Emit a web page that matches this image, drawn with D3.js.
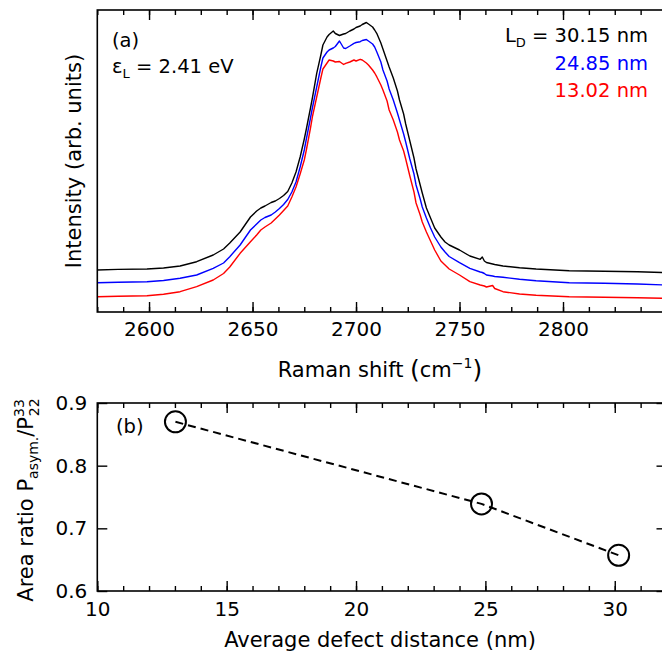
<!DOCTYPE html>
<html lang="en">
<head>
<meta charset="UTF-8" />
<title>2D band vs defect distance</title>
<script src="https://d3js.org/d3.v7.min.js"></script>
<style>
  body { margin: 0; background: #fff; }
  svg { display: block; font-family: "DejaVu Sans", sans-serif; }
  .frame { fill: none; stroke: #000; stroke-width: 1.6px; }
  .axis line { stroke: #000; stroke-width: 1.4px; }
  .axis text { font-size: 20px; fill: #000; font-family: "DejaVu Sans", sans-serif; }
  .lbl { font-size: 19.5px; }
  .title { font-size: 21px; }
  .spec { fill: none; stroke-width: 1.4px; stroke-linejoin: round; }
</style>
</head>
<body>
<div id="chart"></div>
<script>
// Raman shift grid (cm^-1) shared by the three spectra
var shift = [2575, 2585, 2599, 2607, 2615, 2623, 2631, 2636, 2639, 2644, 2649, 2652, 2654, 2656, 2659,
  2661, 2663, 2665, 2667, 2669, 2671, 2673, 2675, 2676, 2678, 2679, 2681, 2683, 2684, 2686, 2687,
  2689, 2690, 2692, 2694, 2695, 2697, 2699, 2700, 2702, 2703, 2705, 2706, 2708, 2709, 2710, 2712,
  2713, 2715, 2716, 2718, 2720, 2721, 2723, 2724, 2726, 2728, 2729, 2731, 2732, 2734, 2736, 2738,
  2741, 2743, 2745, 2750, 2755, 2760, 2761, 2762, 2763, 2766, 2767, 2771, 2779, 2787, 2803, 2820,
  2836, 2850];

// intensities (arb. units), L_D = 30.15 nm
var int3015 = [42, 42.6, 43, 44, 46, 50.3, 57, 63, 69, 80, 95, 101, 104, 106, 109.5,
  111, 113.5, 116.5, 120.5, 129, 140, 155, 173, 183, 204, 215, 238.7, 257, 267, 275, 277.5,
  281, 278.5, 276.5, 278, 278.5, 281, 283, 284.5, 286, 287.5, 289.5, 288, 285, 282, 278.7, 269,
  263, 251, 245, 234, 221, 212, 198, 188, 171, 154, 143, 127, 119, 104, 94, 84,
  75, 70, 67, 62, 56, 52.7, 55, 51, 49.5, 48, 47.5, 46, 44.3, 43, 41.3, 40.7,
  40.3, 39.3];

// L_D = 24.85 nm
var int2485 = [29.3, 29.8, 30.3, 31.5, 33.7, 37, 43.7, 49, 55.3, 67, 82, 88, 92, 94.5, 97,
  100, 103.5, 107.5, 112.5, 120, 130, 145, 162, 173, 194, 205, 225, 245, 254, 260, 262,
  264, 265.5, 271, 264, 263.5, 266, 268.7, 269.5, 270.3, 271.5, 272.5, 271, 268, 265, 260.3, 250,
  242, 231, 223, 212, 199, 192, 178, 170, 153, 138, 127, 113, 105, 94, 84, 75,
  65, 60, 55.5, 49.3, 43.7, 40, 39.5, 38.5, 37, 36, 35.5, 34.7, 32.7, 31.3, 29.3, 28.7,
  28, 27];

// L_D = 13.02 nm
var int1302 = [15.3, 15.8, 16.3, 17.8, 20.3, 25.3, 32, 38.5, 45, 58.7, 70.3, 77, 82, 85, 89,
  93, 97, 101.5, 106, 115, 125, 138, 152, 162, 184, 196, 215, 234, 243, 249, 252,
  251, 250, 250.5, 247.5, 248.7, 250, 252, 251, 252.7, 252, 249, 247, 242, 239, 235.3, 227,
  222, 211, 202, 192, 180, 172, 161, 153, 136, 120, 109, 97, 90, 80, 71, 62,
  51, 47, 43, 37, 30.3, 27, 26.5, 26, 25, 26.5, 23.5, 20.3, 18, 16.7, 15.3, 14.7,
  14.3, 13.7];

var spectra = [
  { name: "30.15", color: "#000000", values: int3015 },
  { name: "24.85", color: "#0000ff", values: int2485 },
  { name: "13.02", color: "#ff0000", values: int1302 }
];

// panel (b): average defect distance (nm) vs area ratio
var defectDist = [13.02, 24.85, 30.15];
var areaRatio = [0.870, 0.739, 0.657];

var shiftTicks = [2600, 2650, 2700, 2750, 2800];
var ratioTicks = [0.6, 0.7, 0.8, 0.9];
var distTicks = [10, 15, 20, 25, 30];

var W = 662, H = 658;
var left = 97.3, right = 666.5;

var svg = d3.select("#chart").append("svg")
  .attr("width", W).attr("height", H);

// ---------- panel (a) ----------
var topA = 10, botA = 312;
var x = d3.scaleLinear().domain([2575, 2850]).range([left, right]);
var y = d3.scaleLinear().domain([0, 302]).range([botA, topA]);

function minorTicks(a, b, step) {
  var t = [];
  for (var v = a; v <= b + 1e-9; v += step) t.push(+v.toFixed(4));
  return t;
}

var gA = svg.append("g");

var line = d3.line()
  .x(function (d, i) { return x(shift[i]); })
  .y(function (d) { return y(d); });

spectra.forEach(function (s) {
  gA.append("path")
    .datum(s.values)
    .attr("class", "spec")
    .attr("stroke", s.color)
    .attr("d", line);
});

// minor + major ticks, inward, bottom and top
var minorA = minorTicks(2575, 2850, 12.5);
gA.append("g").attr("class", "axis")
  .attr("transform", "translate(0," + botA + ")")
  .call(d3.axisBottom(x).tickValues(minorA).tickSize(-5).tickFormat(""));
gA.append("g").attr("class", "axis")
  .attr("transform", "translate(0," + botA + ")")
  .call(d3.axisBottom(x).tickValues(shiftTicks).tickSize(-10).tickPadding(10).tickFormat(d3.format("d")));
gA.append("g").attr("class", "axis")
  .attr("transform", "translate(0," + topA + ")")
  .call(d3.axisTop(x).tickValues(minorA).tickSize(-5).tickFormat(""));
gA.append("g").attr("class", "axis")
  .attr("transform", "translate(0," + topA + ")")
  .call(d3.axisTop(x).tickValues(shiftTicks).tickSize(-10).tickFormat(""));

gA.append("rect").attr("class", "frame")
  .attr("x", left).attr("y", topA)
  .attr("width", right - left).attr("height", botA - topA);

// labels panel (a)
gA.append("text").attr("class", "lbl").attr("x", 112).attr("y", 47).text("(a)");
var eps = gA.append("text").attr("class", "lbl").attr("x", 112).attr("y", 73);
eps.append("tspan").text("ε");
eps.append("tspan").attr("dy", 5).attr("font-size", 13).text("L");
eps.append("tspan").attr("dy", -5).text(" = 2.41 eV");

var legY = [42, 70, 97];
spectra.forEach(function (s, i) {
  var t = gA.append("text").attr("class", "lbl")
    .attr("x", 648).attr("y", legY[i])
    .attr("text-anchor", "end").style("fill", s.color);
  if (i === 0) {
    t.append("tspan").text("L");
    t.append("tspan").attr("dy", 5).attr("font-size", 13).text("D");
    t.append("tspan").attr("dy", -5).text(" = ");
  }
  t.append("tspan").text(s.name + " nm");
});

svg.append("text").attr("class", "title")
  .attr("transform", "translate(81,161) rotate(-90)")
  .attr("text-anchor", "middle")
  .text("Intensity (arb. units)");

var xt = svg.append("text").attr("class", "title")
  .attr("x", 380).attr("y", 377).attr("text-anchor", "middle");
xt.append("tspan").text("Raman shift ");
xt.append("tspan").attr("font-size", 25).attr("dy", 1).text("(");
xt.append("tspan").attr("dy", -1).text("cm");
xt.append("tspan").attr("dy", -9).attr("font-size", 14).text("−1");
xt.append("tspan").attr("dy", 10).attr("font-size", 25).text(")");

// ---------- panel (b) ----------
var topB = 403, botB = 591;
var xb = d3.scaleLinear().domain([10, 32]).range([left, right]);
var yb = d3.scaleLinear().domain([0.6, 0.9]).range([botB, topB]);

var gB = svg.append("g");
var minorB = minorTicks(10, 32, 1);
gB.append("g").attr("class", "axis")
  .attr("transform", "translate(0," + botB + ")")
  .call(d3.axisBottom(xb).tickValues(minorB).tickSize(-5).tickFormat(""));
gB.append("g").attr("class", "axis")
  .attr("transform", "translate(0," + botB + ")")
  .call(d3.axisBottom(xb).tickValues(distTicks).tickSize(-10).tickPadding(11).tickFormat(d3.format("d")));
gB.append("g").attr("class", "axis")
  .attr("transform", "translate(0," + topB + ")")
  .call(d3.axisTop(xb).tickValues(minorB).tickSize(-5).tickFormat(""));
gB.append("g").attr("class", "axis")
  .attr("transform", "translate(0," + topB + ")")
  .call(d3.axisTop(xb).tickValues(distTicks).tickSize(-10).tickFormat(""));
gB.append("g").attr("class", "axis")
  .attr("transform", "translate(" + left + ",0)")
  .call(d3.axisLeft(yb).tickValues(ratioTicks).tickSize(-10).tickPadding(10).tickFormat(d3.format(".1f")));
gB.append("g").attr("class", "axis")
  .attr("transform", "translate(" + right + ",0)")
  .call(d3.axisRight(yb).tickValues(ratioTicks).tickSize(-10).tickFormat(""));
svg.selectAll(".axis .domain").remove();

gB.append("rect").attr("class", "frame")
  .attr("x", left).attr("y", topB)
  .attr("width", right - left).attr("height", botB - topB);

var pts = defectDist.map(function (d, i) { return [d, areaRatio[i]]; });
gB.append("path")
  .datum(pts)
  .attr("fill", "none").attr("stroke", "#000")
  .attr("stroke-width", 2).attr("stroke-dasharray", "8,5")
  .attr("d", d3.line().x(function (d) { return xb(d[0]); }).y(function (d) { return yb(d[1]); }));
gB.selectAll("circle").data(pts).enter().append("circle")
  .attr("cx", function (d) { return xb(d[0]); })
  .attr("cy", function (d) { return yb(d[1]); })
  .attr("r", 10.5)
  .attr("fill", "none").attr("stroke", "#000").attr("stroke-width", 2);

gB.append("text").attr("class", "lbl").attr("x", 116).attr("y", 433).text("(b)");

svg.append("text").attr("class", "title")
  .attr("x", 380).attr("y", 647).attr("text-anchor", "middle")
  .text("Average defect distance (nm)");

var yt = svg.append("text").attr("class", "title")
  .attr("transform", "translate(33,500) rotate(-90)")
  .attr("text-anchor", "middle");
yt.append("tspan").text("Area ratio P");
yt.append("tspan").attr("dy", 5).attr("font-size", 14).text("asym.");
yt.append("tspan").attr("dy", -5).text("/P");
yt.append("tspan").attr("dy", -9).attr("font-size", 14).text("33");
yt.append("tspan").attr("dx", -17).attr("dy", 15).attr("font-size", 14).text("22");
</script>
</body>
</html>
